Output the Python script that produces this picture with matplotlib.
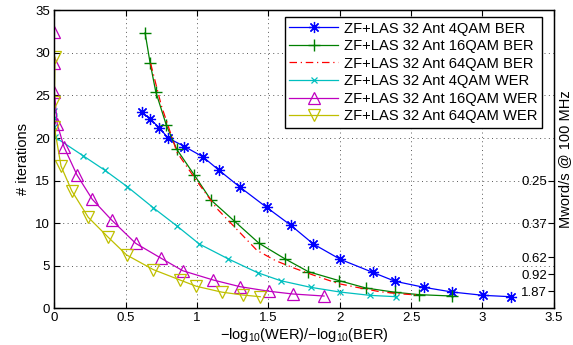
import matplotlib
matplotlib.use("Agg")
import matplotlib.pyplot as plt

plt.rcParams['font.family'] = ['Liberation Sans', 'DejaVu Sans']
plt.rcParams['mathtext.fontset'] = 'custom'
plt.rcParams['mathtext.rm'] = 'Liberation Sans'
plt.rcParams['mathtext.it'] = 'Liberation Sans:italic'

labels = ["ZF+LAS 32 Ant 4QAM BER", "ZF+LAS 32 Ant 16QAM BER", "ZF+LAS 32 Ant 64QAM BER",
          "ZF+LAS 32 Ant 4QAM WER", "ZF+LAS 32 Ant 16QAM WER", "ZF+LAS 32 Ant 64QAM WER"]

ber4_x = [0.617, 0.673, 0.736, 0.797, 0.912, 1.04, 1.155, 1.303, 1.488, 1.655, 1.815, 2.004,
          2.231, 2.388, 2.591, 2.788, 3.006, 3.198]
ber4_y = [23.0, 22.2, 21.2, 20.0, 19.0, 17.8, 16.2, 14.2, 11.85, 9.78, 7.55, 5.75,
          4.22, 3.17, 2.46, 1.91, 1.52, 1.36]

ber16_x = [0.636, 0.671, 0.711, 0.785, 0.857, 0.981, 1.098, 1.259, 1.435, 1.617, 1.78, 1.997,
           2.184, 2.388, 2.558, 2.787]
ber16_y = [32.35, 28.83, 25.42, 21.5, 18.7, 15.65, 12.71, 10.28, 7.63, 5.8, 4.30, 3.24,
           2.38, 1.88, 1.60, 1.44]

ber64_x = [0.675, 0.75, 0.86, 1.0, 1.14, 1.30, 1.42, 1.55, 1.675, 1.815, 1.99, 2.12, 2.28, 2.42, 2.56]
ber64_y = [28.75, 23.8, 18.3, 14.9, 11.7, 8.9, 6.8, 5.6, 4.75, 3.9, 2.9, 2.46, 1.95, 1.7, 1.55]

wer4_x = [-0.005, -0.003, 0.0, 0.005, 0.203, 0.355, 0.512, 0.694, 0.857, 1.016, 1.22, 1.425,
          1.586, 1.797, 2.002, 2.212, 2.395]
wer4_y = [23.2, 22.4, 21.3, 20.1, 17.9, 16.2, 14.27, 11.8, 9.7, 7.55, 5.79, 4.18,
          3.24, 2.46, 1.91, 1.52, 1.36]

wer16_x = [0.0, 0.0, 0.0, 0.021, 0.069, 0.159, 0.266, 0.402, 0.570, 0.746, 0.90, 1.114,
           1.301, 1.504, 1.671, 1.89]
wer16_y = [32.4, 28.75, 25.4, 21.6, 18.9, 15.65, 12.8, 10.36, 7.63, 5.9, 4.41, 3.32,
           2.54, 2.0, 1.68, 1.44]

wer64_x = [0.005, 0.0, 0.0, 0.047, 0.122, 0.238, 0.374, 0.507, 0.694, 0.881, 0.996, 1.173,
           1.32, 1.443]
wer64_y = [29.5, 24.25, 21.3, 16.7, 13.8, 10.68, 8.4, 6.26, 4.54, 3.32, 2.58, 1.9, 1.56, 1.36]

right_ticks = [15, 10, 6, 4, 2]
right_labels = ['0.25', '0.37', '0.62', '0.92', '1.87']

fig = plt.figure(figsize=(5.73, 3.45), dpi=100)
ax = fig.add_axes([0.0948, 0.1064, 0.8717, 0.8638])

lw = 0.9
ax.plot(ber4_x, ber4_y, color=(0, 0, 1), lw=lw, marker=(8, 2, 0), ms=8, mew=0.9, label=labels[0])
ax.plot(ber16_x, ber16_y, color=(0, 0.5, 0), lw=lw, marker='+', ms=9, mew=1.0, label=labels[1])
ax.plot(ber64_x, ber64_y, color=(1, 0, 0), lw=lw, ls='-.', dashes=(6, 3, 1, 3), label=labels[2])
ax.plot(wer4_x, wer4_y, color=(0, 0.75, 0.75), lw=lw, marker='x', ms=5, mew=0.9, label=labels[3])
ax.plot(wer16_x, wer16_y, color=(0.75, 0, 0.75), lw=lw, marker='^', ms=9, mfc='none', mew=0.9, label=labels[4])
ax.plot(wer64_x, wer64_y, color=(0.75, 0.75, 0), lw=lw, marker='v', ms=9, mfc='none', mew=0.9, label=labels[5])

ax.set_xlim(0, 3.5)
ax.set_ylim(0, 35)
ax.set_xticks([0, 0.5, 1, 1.5, 2, 2.5, 3, 3.5])
ax.set_xticklabels(['0', '0.5', '1', '1.5', '2', '2.5', '3', '3.5'])
ax.set_yticks([0, 5, 10, 15, 20, 25, 30, 35])
ax.grid(True, color='0.35', linestyle=(0, (1, 3.5)), lw=0.7)
ax.tick_params(direction='in', top=True, right=True, length=4, width=0.8, labelsize=9.5, pad=3)
for s in ax.spines.values():
    s.set_linewidth(1.0)

ax.set_xlabel('\u2212log$_{10}$(WER)/\u2212log$_{10}$(BER)', fontsize=10.5, labelpad=1)
ax.set_ylabel('# iterations', fontsize=10.5, labelpad=4)

ax2 = ax.twinx()
ax2.set_ylim(0, 35)
ax2.set_yticks(right_ticks)
ax2.set_yticklabels(right_labels)
ax2.tick_params(axis='y', direction='in', length=4, width=0.8, labelsize=9.5, pad=-5)
for t in ax2.get_yticklabels():
    t.set_horizontalalignment('right')
ax2.set_ylabel('Mword/s @ 100 MHz', fontsize=10.5, labelpad=3)

leg = ax.legend(loc='upper right', bbox_to_anchor=(0.976, 0.977), fontsize=10.6, frameon=True,
                fancybox=False, edgecolor='black', framealpha=1, handlelength=3.3,
                borderpad=0.3, labelspacing=0.24, handletextpad=0.4, borderaxespad=0)
leg.get_frame().set_linewidth(1.0)

fig.savefig('out.png', dpi=100)
